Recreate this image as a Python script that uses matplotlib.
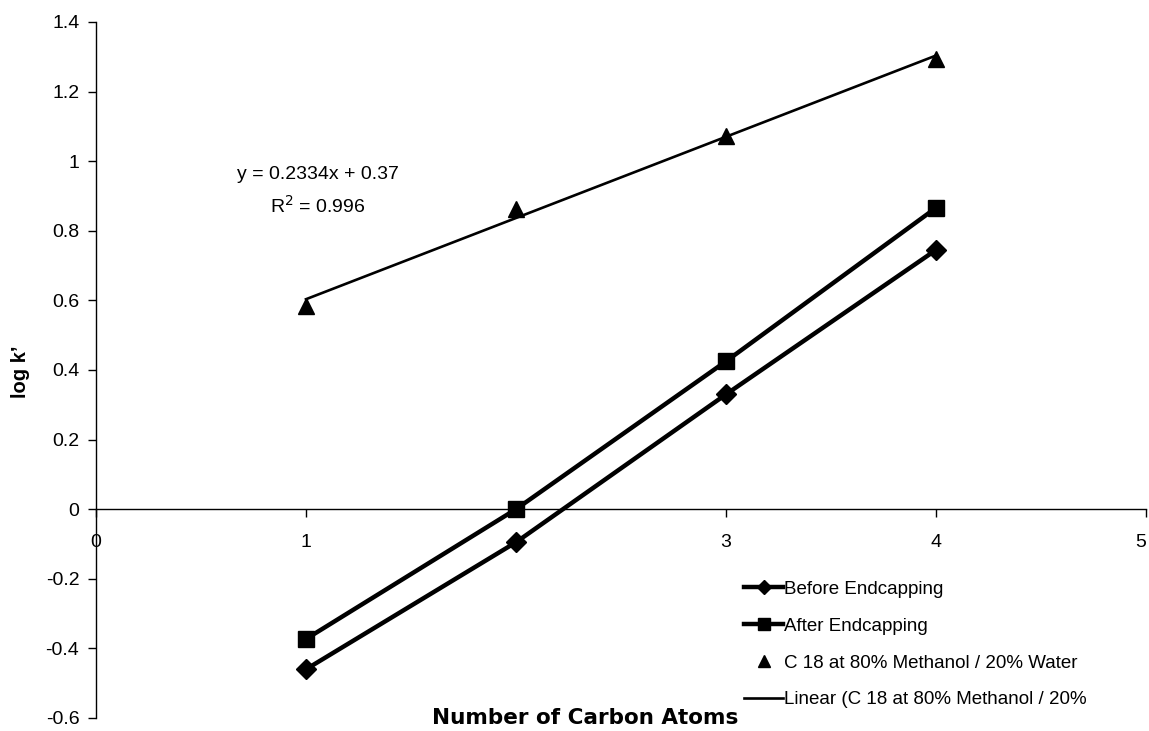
import matplotlib
matplotlib.use("Agg")
import matplotlib.pyplot as plt
import numpy as np

plt.rcParams['font.family'] = ['Liberation Sans', 'DejaVu Sans']

# Data
carbon_atoms = [1, 2, 3, 4]
before_endcapping = [-0.46, -0.095, 0.33, 0.745]
after_endcapping = [-0.373, 0.0, 0.425, 0.866]
c18_methanol_water = [0.585, 0.862, 1.072, 1.295]

# Linear trendline for the C 18 series
trend_slope = 0.2334
trend_intercept = 0.37
trend_r2 = 0.996

x_ticks = [0, 1, 2, 3, 4, 5]
x_tick_labels = ["0", "1", "", "3", "4", "5"]
y_ticks = [-0.6, -0.4, -0.2, 0, 0.2, 0.4, 0.6, 0.8, 1, 1.2, 1.4]
y_tick_labels = ["-0.6", "-0.4", "-0.2", "0", "0.2", "0.4", "0.6", "0.8", "1", "1.2", "1.4"]

W, H = 1149, 731
fig = plt.figure(figsize=(W / 100, H / 100), dpi=100)
ax = fig.add_axes([96 / W, 13 / H, 1050 / W, 696 / H])

ax.set_xlim(0, 5)
ax.set_ylim(-0.6, 1.4)

ax.plot(carbon_atoms, before_endcapping, color='black', lw=3.2, marker='D',
        markersize=10, label='Before Endcapping', zorder=4)
ax.plot(carbon_atoms, after_endcapping, color='black', lw=3.2, marker='s',
        markersize=12, label='After Endcapping', zorder=4)
ax.plot(carbon_atoms, c18_methanol_water, color='black', lw=0, marker='^',
        markersize=12, label='C 18 at 80% Methanol / 20% Water', zorder=5)

trend_x = np.array([carbon_atoms[0], carbon_atoms[-1]])
ax.plot(trend_x, trend_slope * trend_x + trend_intercept, color='black', lw=1.9,
        label='Linear (C 18 at 80% Methanol / 20%', zorder=3)

# Spines: y axis at x=0, x axis at y=0
for side in ['top', 'right']:
    ax.spines[side].set_visible(False)
ax.spines['left'].set_position(('data', 0))
ax.spines['bottom'].set_position(('data', 0))
ax.spines['left'].set_linewidth(1)
ax.spines['bottom'].set_linewidth(1)

ax.set_xticks(x_ticks)
ax.set_xticklabels(x_tick_labels)
ax.set_yticks(y_ticks)
ax.set_yticklabels(y_tick_labels)
ax.tick_params(axis='x', direction='out', length=6, width=1, pad=12, labelsize=14)
ax.tick_params(axis='y', direction='out', length=6, width=1, pad=6, labelsize=14)
# keep the last x label inside the figure edge
ax.get_xticklabels()[-1].set_horizontalalignment('right')

ax.text(1.057, 0.913, f"y = {trend_slope}x + {trend_intercept}\nR$^2$ = {trend_r2}",
        ha='center', va='center', fontsize=14, linespacing=1.65)

fig.text(585 / W, 1 - 718 / H, "Number of Carbon Atoms", ha='center', va='center',
         fontsize=15.5, fontweight='bold', family='DejaVu Sans')
fig.text(20 / W, 1 - 372 / H, "log k’", ha='center', va='center', rotation=90,
         fontsize=14.5, fontweight='bold')

leg = ax.legend(loc='upper left', bbox_to_anchor=(727 / W, 1 - 564 / H),
                bbox_transform=fig.transFigure, frameon=False, fontsize=13.5,
                handlelength=2.1, handletextpad=0.05, labelspacing=1.05,
                markerscale=0.75)

fig.savefig("out.png", dpi=100)
